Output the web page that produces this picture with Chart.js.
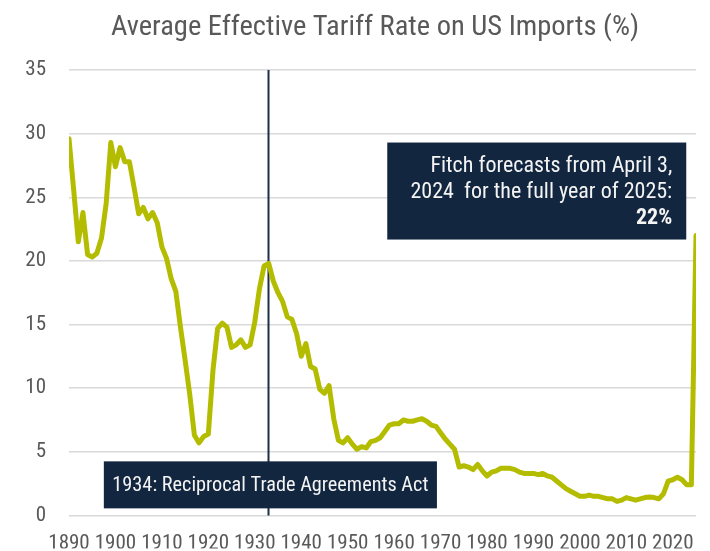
<!DOCTYPE html>
<html>
<head>
<meta charset="utf-8">
<script src="https://cdn.jsdelivr.net/npm/chart.js@4.4.1/dist/chart.umd.min.js"></script>
<style>
  html, body { margin: 0; padding: 0; background: #fff; }
  #wrap { width: 710px; height: 551px; }
</style>
</head>
<body>
<div id="wrap"><canvas id="chart"></canvas></div>
<script>
const FONT = "'Roboto Condensed', Roboto, sans-serif";
const TEXT_GREY = "#595959";
const LINE_GREEN = "#b4bc00";
const NAVY = "#12263f";

const chartTitle = "Average Effective Tariff Rate on US Imports (%)";

// one value per year, starting 1890
const firstYear = 1890;
const tariffRates = [
    29.6, 25.6, 21.5, 23.8, 20.5, 20.3, 20.6, 21.8, 24.5, 29.3,  // 1890s
    27.4, 28.9, 27.8, 27.8, 25.8, 23.7, 24.2, 23.3, 23.8, 23.0,  // 1900s
    21.1, 20.2, 18.6, 17.6, 14.8, 12.2, 9.5, 6.3, 5.7, 6.2,      // 1910s
    6.4, 11.4, 14.7, 15.1, 14.8, 13.2, 13.4, 13.8, 13.2, 13.4,   // 1920s
    15.2, 17.8, 19.6, 19.8, 18.4, 17.5, 16.8, 15.6, 15.4, 14.3,  // 1930s
    12.5, 13.5, 11.7, 11.5, 9.9, 9.6, 10.2, 7.6, 5.9, 5.7,       // 1940s
    6.1, 5.6, 5.2, 5.4, 5.3, 5.8, 5.9, 6.1, 6.6, 7.1,            // 1950s
    7.2, 7.2, 7.5, 7.4, 7.4, 7.5, 7.6, 7.4, 7.1, 7.0,            // 1960s
    6.5, 6.0, 5.6, 5.2, 3.8, 3.9, 3.8, 3.6, 4.0, 3.5,            // 1970s
    3.1, 3.4, 3.5, 3.7, 3.7, 3.7, 3.6, 3.4, 3.3, 3.3,            // 1980s
    3.3, 3.2, 3.3, 3.1, 3.0, 2.7, 2.4, 2.1, 1.9, 1.7,            // 1990s
    1.5, 1.5, 1.6, 1.5, 1.5, 1.4, 1.3, 1.3, 1.1, 1.2,            // 2000s
    1.4, 1.3, 1.2, 1.3, 1.4, 1.45, 1.4, 1.3, 1.7, 2.7,           // 2010s
    2.8, 3.0, 2.8, 2.4, 2.4, 22.0                                // 2020-2025
];
const years = tariffRates.map((_, i) => firstYear + i);

const xTickYears = [1890, 1900, 1910, 1920, 1930, 1940, 1950, 1960, 1970, 1980, 1990, 2000, 2010, 2020];
const yTickValues = [0, 5, 10, 15, 20, 25, 30, 35];

// marker line and the two text boxes
const actYear = 1933;
const actLabel = "1934: Reciprocal Trade Agreements Act";
const forecastLines = ["Fitch forecasts from April 3,", "2024  for the full year of 2025:"];
const forecastValue = "22%";

const annotations = {
    id: "annotations",
    beforeDatasetsDraw(chart) {
        const { ctx, scales: { x, y } } = chart;
        const px = Math.round(x.getPixelForValue(actYear)) - 0.5;
        ctx.save();
        ctx.strokeStyle = "#1f2f47";
        ctx.lineWidth = 2;
        ctx.beginPath();
        ctx.moveTo(px, y.getPixelForValue(35));
        ctx.lineTo(px, y.getPixelForValue(0));
        ctx.stroke();
        ctx.restore();
    },
    afterDatasetsDraw(chart) {
        const { ctx, scales: { x, y } } = chart;
        ctx.save();

        // Reciprocal Trade Agreements Act box
        ctx.font = `20.3px ${FONT}`;
        const actW = ctx.measureText(actLabel).width + 17;
        const actLeft = x.getPixelForValue(1897.5);
        const actMid = y.getPixelForValue(2.4);
        ctx.fillStyle = NAVY;
        ctx.fillRect(actLeft, actMid - 23.5, actW, 47);
        ctx.fillStyle = "#f4f4f4";
        ctx.textAlign = "left";
        ctx.textBaseline = "middle";
        ctx.fillText(actLabel, actLeft + 8.5, actMid + 1);

        // Fitch forecast box
        const boxRight = x.getPixelForValue(2022.9);
        const boxTop = y.getPixelForValue(29.3);
        ctx.font = `22px ${FONT}`;
        ctx.fillStyle = NAVY;
        ctx.fillRect(boxRight - 299, boxTop, 299, 97);
        ctx.fillStyle = "#f4f4f4";
        ctx.textAlign = "right";
        ctx.textBaseline = "alphabetic";
        forecastLines.forEach((line, i) => {
            ctx.fillText(line, boxRight - 14, boxTop + 29 + i * 26.3);
        });
        ctx.font = `bold 22px ${FONT}`;
        ctx.fillText(forecastValue, boxRight - 14, boxTop + 29 + 2 * 26.3);
        ctx.restore();
    },
    afterDraw(chart) {
        const { ctx } = chart;
        ctx.save();
        ctx.font = `28.5px ${FONT}`;
        ctx.fillStyle = TEXT_GREY;
        ctx.textAlign = "center";
        ctx.textBaseline = "middle";
        ctx.fillText(chartTitle, 375, 28);
        ctx.restore();
    }
};

new Chart(document.getElementById("chart"), {
    type: "line",
    data: {
        labels: years,
        datasets: [{
            data: years.map((yr, i) => ({ x: yr, y: tariffRates[i] })),
            borderColor: LINE_GREEN,
            borderWidth: 5,
            pointRadius: 0,
            tension: 0,
            borderJoinStyle: "round",
            borderCapStyle: "round"
        }]
    },
    options: {
        responsive: true,
        maintainAspectRatio: false,
        animation: false,
        layout: { padding: { top: 70, right: 13, left: 0, bottom: 0 } },
        plugins: {
            legend: { display: false },
            tooltip: { enabled: false }
        },
        scales: {
            x: {
                type: "linear",
                min: 1890,
                max: 2025,
                afterBuildTicks: (scale) => { scale.ticks = xTickYears.map(v => ({ value: v })); },
                afterFit: (scale) => { scale.height = 33; },
                grid: { display: false, drawTicks: false },
                border: { display: false },
                ticks: {
                    font: { family: FONT, size: 21 },
                    color: TEXT_GREY,
                    padding: 16,
                    maxRotation: 0,
                    autoSkip: false,
                    callback: (v) => String(v)
                }
            },
            y: {
                min: 0,
                max: 35,
                afterBuildTicks: (scale) => { scale.ticks = yTickValues.map(v => ({ value: v })); },
                afterFit: (scale) => { scale.width = 69; },
                grid: { color: "#d9d9d9", lineWidth: 1.5, drawTicks: false },
                border: { display: false },
                ticks: {
                    font: { family: FONT, size: 21 },
                    color: TEXT_GREY,
                    padding: 23
                }
            }
        }
    },
    plugins: [annotations]
});
</script>
</body>
</html>
